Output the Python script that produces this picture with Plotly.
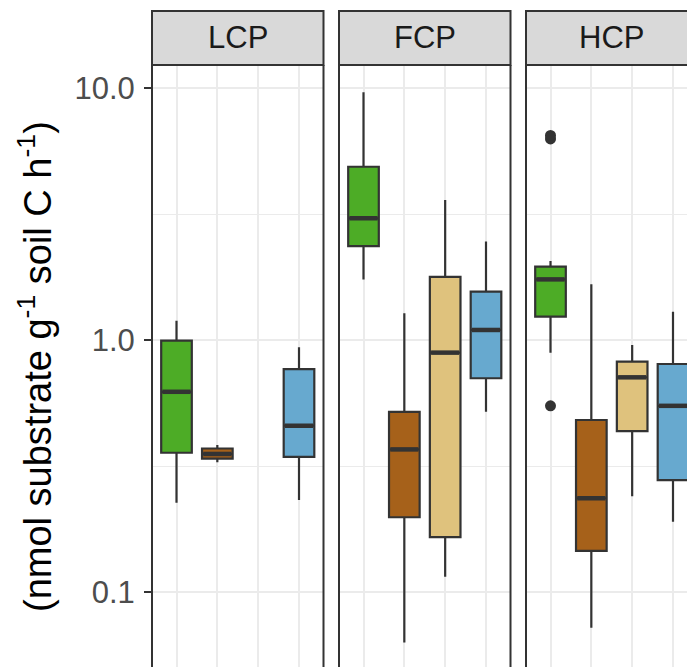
import plotly.graph_objects as go

# ---------------- data ----------------
panels = ["LCP", "FCP", "HCP"]
treatments = ["T1", "T2", "T3", "T4"]
positions = [1, 2, 3, 4]
fill_colors = ["#4DAC26", "#A6611A", "#DFC27D", "#67A9CF"]

# one row per panel, one entry per treatment (None = no data)
whisker_low = [[0.226, 0.327, None, 0.232],
               [1.74, 0.063, 0.115, 0.519],
               [0.891, 0.0722, 0.240, 0.190]]
box_q1 = [[0.357, 0.338, None, 0.344],
          [2.36, 0.198, 0.165, 0.705],
          [1.237, 0.1455, 0.435, 0.278]]
box_median = [[0.623, 0.353, None, 0.457],
              [3.04, 0.368, 0.891, 1.096],
              [1.74, 0.2355, 0.711, 0.548]]
box_q3 = [[0.994, 0.371, None, 0.767],
          [4.87, 0.519, 1.78, 1.556],
          [1.955, 0.4815, 0.820, 0.803]]
whisker_high = [[1.193, 0.383, None, 0.935],
                [9.61, 1.276, 3.59, 2.46],
                [2.06, 1.665, 0.955, 1.295]]

outlier_panel = ["HCP", "HCP", "HCP"]
outlier_treatment = ["T1", "T1", "T1"]
outlier_value = [6.28, 6.48, 0.548]

y_tick_vals = [0.1, 1, 10]
y_tick_text = ["0.1", "1.0", "10.0"]
y_title = "(nmol substrate g<sup>-1</sup> soil C h<sup>-1</sup>)"

# ---------------- style ----------------
FONT = "Liberation Sans, Arial, sans-serif"
DARK = "#333333"
GRID = "#EBEBEB"
BOX_W = 0.75
OFF = 8              # page body margin

W, H = 695 - OFF, 667 - OFF
ML, MT = 152 - OFF, 65 - OFF
PW = W - ML
PH = H - MT

panel_px = [(152 - OFF, 323.5 - OFF), (339 - OFF, 510.5 - OFF), (526 - OFF, W)]
unit_px = 171.5 / 4.2
domains = [[(a - ML) / PW, (b - ML) / PW] for a, b in panel_px]
xranges = [[0.4, 0.4 + (b - a) / unit_px] for a, b in panel_px]
y_ten_px = 88 - OFF
y_top_log = 1 + (y_ten_px - MT) / 252.0
y_bot_log = 1 - (H - y_ten_px) / 252.0

fig = go.Figure()

for p_i, pname in enumerate(panels):
    suffix = "" if p_i == 0 else str(p_i + 1)
    xa, ya = "x" + suffix, "y" + suffix
    for t_i, tname in enumerate(treatments):
        if box_median[p_i][t_i] is None:
            continue
        fig.add_trace(go.Box(
            x=[positions[t_i]],
            q1=[box_q1[p_i][t_i]], median=[box_median[p_i][t_i]],
            q3=[box_q3[p_i][t_i]],
            lowerfence=[whisker_low[p_i][t_i]],
            upperfence=[whisker_high[p_i][t_i]],
            width=BOX_W, whiskerwidth=0,
            fillcolor=fill_colors[t_i],
            line=dict(color=DARK, width=2.2),
            boxpoints=False, name=tname, showlegend=False,
            xaxis=xa, yaxis=ya, hoverinfo="skip",
        ))
        c = positions[t_i]
        fig.add_trace(go.Scatter(
            x=[c - BOX_W / 2 + 0.03, c + BOX_W / 2 - 0.03],
            y=[box_median[p_i][t_i]] * 2,
            mode="lines", line=dict(color=DARK, width=4.5),
            showlegend=False, xaxis=xa, yaxis=ya, hoverinfo="skip",
        ))
    ox = [positions[treatments.index(t)] for p, t in zip(outlier_panel, outlier_treatment) if p == pname]
    oy = [v for p, v in zip(outlier_panel, outlier_value) if p == pname]
    if ox:
        fig.add_trace(go.Scatter(
            x=ox, y=oy, mode="markers",
            marker=dict(color=DARK, size=11),
            showlegend=False, xaxis=xa, yaxis=ya, hoverinfo="skip",
        ))

layout = dict(
    width=W, height=H,
    margin=dict(l=ML, r=0, t=MT, b=0, pad=0),
    paper_bgcolor="white", plot_bgcolor="white",
    boxmode="overlay", showlegend=False,
    font=dict(family=FONT),
)

shapes = []
annotations = []
strip_top = 1 + (MT - (11 - OFF)) / PH
for p_i, pname in enumerate(panels):
    suffix = "" if p_i == 0 else str(p_i + 1)
    layout["xaxis" + suffix] = dict(
        domain=domains[p_i], range=xranges[p_i], anchor="y" + suffix,
        tickmode="array", tickvals=positions, showticklabels=False,
        ticks="", showgrid=True, gridcolor=GRID, gridwidth=2,
        zeroline=False, showline=False, fixedrange=True,
    )
    yax = dict(
        type="log", range=[y_bot_log, y_top_log], anchor="x" + suffix,
        tickmode="array", tickvals=y_tick_vals, ticktext=y_tick_text,
        showgrid=True, gridcolor=GRID, gridwidth=2,
        minor=dict(tickmode="array", tickvals=[10 ** -0.5, 10 ** 0.5],
                   showgrid=True, gridcolor=GRID, gridwidth=1, ticks=""),
        zeroline=False, showline=False,
    )
    if p_i == 0:
        yax.update(ticks="outside", ticklen=7, tickwidth=2, tickcolor=DARK,
                   tickfont=dict(family=FONT, size=31, color="#4D4D4D"),
                   ticklabelstandoff=3)
    else:
        yax.update(matches="y", showticklabels=False, ticks="")
    layout["yaxis" + suffix] = yax

    dref = "x" + suffix + " domain"
    x1 = 1.02 if p_i == 2 else 1
    shapes.append(dict(type="rect", xref=dref, yref="paper", x0=0, x1=x1,
                       y0=1.0, y1=strip_top, fillcolor="#D9D9D9",
                       line=dict(color=DARK, width=2), layer="above"))
    shapes.append(dict(type="line", xref=dref, yref="paper", x0=0, x1=0,
                       y0=-0.01, y1=1, line=dict(color=DARK, width=2), layer="above"))
    if p_i < 2:
        shapes.append(dict(type="line", xref=dref, yref="paper", x0=1, x1=1,
                           y0=-0.01, y1=1, line=dict(color=DARK, width=2), layer="above"))
    cx = 0.5 if p_i < 2 else (171.5 / 2) / (panel_px[2][1] - panel_px[2][0])
    annotations.append(dict(text=pname, xref=dref, yref="paper", x=cx,
                            y=(1 + strip_top) / 2, xanchor="center", yanchor="middle",
                            showarrow=False,
                            font=dict(family=FONT, size=31, color="#1A1A1A")))

annotations.append(dict(text=y_title, xref="paper", yref="paper",
                        x=(35 - OFF - ML) / PW, y=(H - (367 - OFF)) / PH, textangle=-90,
                        xanchor="center", yanchor="middle", showarrow=False,
                        font=dict(family=FONT, size=38, color="black")))

layout["shapes"] = shapes
layout["annotations"] = annotations
fig.update_layout(**layout)

fig.write_html("out.html")
